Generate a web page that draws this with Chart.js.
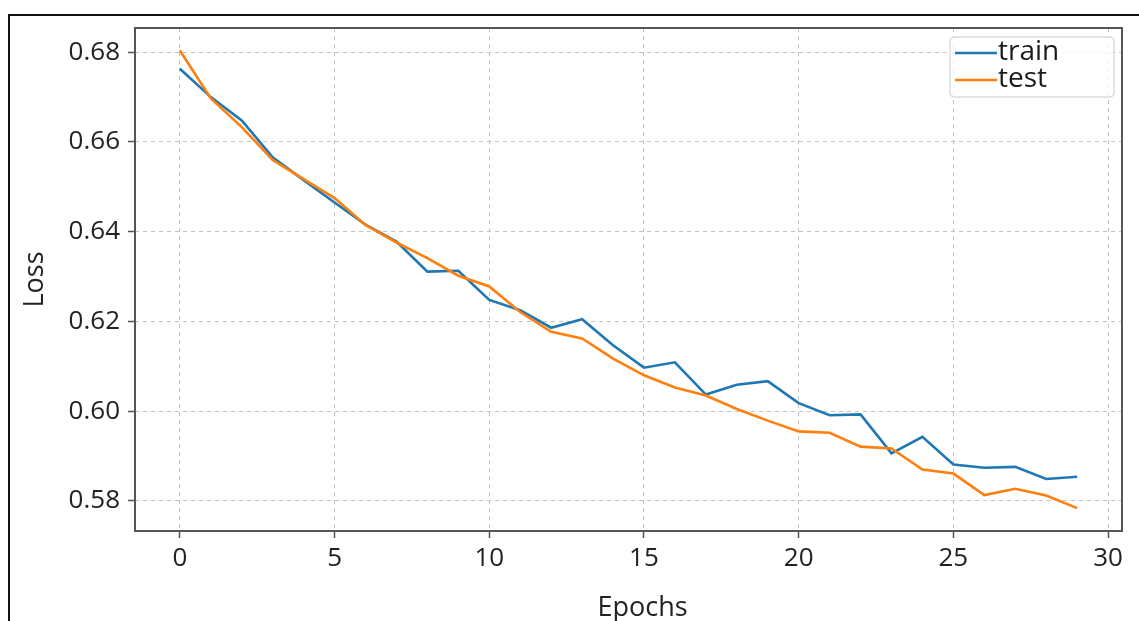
<!DOCTYPE html>
<html>
<head>
<meta charset="utf-8">
<script src="https://cdn.jsdelivr.net/npm/chart.js@4.4.1/dist/chart.umd.min.js"></script>
<style>
  html, body { margin: 0; padding: 0; background: #fff; overflow: hidden; }
  #frame { position: absolute; left: 8px; top: 14px; width: 2000px; height: 2000px;
           border-left: 2px solid #111; border-top: 2px solid #111; }
  #canvas { position: absolute; left: 0; top: 0; }
</style>
</head>
<body>
<div id="frame"></div>
<canvas id="canvas" width="1139" height="621"></canvas>
<script>
const epochs = [0,1,2,3,4,5,6,7,8,9,10,11,12,13,14,15,16,17,18,19,20,21,22,23,24,25,26,27,28,29];
const trainLoss = [0.6763,0.6700,0.6648,0.6566,0.6515,0.6465,0.6416,0.6378,0.6311,0.6313,
                   0.6248,0.6225,0.6186,0.6205,0.6147,0.6097,0.6109,0.6037,0.6059,0.6067,
                   0.6018,0.5991,0.5993,0.5906,0.5943,0.5881,0.5874,0.5876,0.5849,0.5854];
const testLoss = [0.6804,0.6697,0.6633,0.6560,0.6517,0.6475,0.6415,0.6376,0.6341,0.6302,
                  0.6278,0.6221,0.6177,0.6162,0.6117,0.6080,0.6053,0.6035,0.6005,0.5979,
                  0.5955,0.5952,0.5921,0.5917,0.5870,0.5861,0.5813,0.5827,0.5812,0.5784];
const xTicks = [0, 5, 10, 15, 20, 25, 30];
const yTicks = [0.58, 0.60, 0.62, 0.64, 0.66, 0.68];
const seriesLabels = ['train', 'test'];
const seriesColors = ['#1f77b4', '#ff7f0e'];

Chart.defaults.font.family = "'Open Sans', 'DejaVu Sans', sans-serif";
Chart.defaults.font.size = 26;
Chart.defaults.color = '#222';

// axes frame (all four spines) drawn over the lines like matplotlib
const framePlugin = {
  id: 'frame',
  afterDatasetsDraw(chart) {
    const {ctx, chartArea: a} = chart;
    ctx.save();
    ctx.strokeStyle = '#555';
    ctx.lineWidth = 2;
    ctx.strokeRect(a.left, a.top, a.right - a.left, a.bottom - a.top);
    ctx.restore();
  }
};

// boxed legend in the upper right corner
const boxLegend = {
  id: 'boxLegend',
  afterDraw(chart) {
    const {ctx, chartArea: a} = chart;
    const w = 164, h = 60;
    const x0 = a.right - 8 - w, y0 = a.top + 9;
    ctx.save();
    ctx.beginPath();
    ctx.roundRect(x0, y0, w, h, 4);
    ctx.fillStyle = 'rgba(255,255,255,0.8)';
    ctx.fill();
    ctx.strokeStyle = '#ccc';
    ctx.lineWidth = 1;
    ctx.stroke();
    ctx.font = "28px 'Open Sans', 'DejaVu Sans', sans-serif";
    ctx.textBaseline = 'middle';
    ctx.fillStyle = '#1a1a1a';
    chart.data.datasets.forEach((ds, i) => {
      const y = y0 + 16 + i * 27;
      ctx.beginPath();
      ctx.strokeStyle = ds.borderColor;
      ctx.lineWidth = 2.5;
      ctx.moveTo(x0 + 5, y);
      ctx.lineTo(x0 + 47, y);
      ctx.stroke();
      ctx.fillText(ds.label, x0 + 48, y - 1);
    });
    ctx.restore();
  }
};

new Chart(document.getElementById('canvas'), {
  type: 'line',
  data: {
    labels: epochs,
    datasets: [
      { label: seriesLabels[0], data: trainLoss, borderColor: seriesColors[0], order: 1 },
      { label: seriesLabels[1], data: testLoss, borderColor: seriesColors[1], order: 0 }
    ]
  },
  options: {
    responsive: false,
    animation: false,
    layout: { padding: { left: 0, top: 28, right: 17, bottom: 0 } },
    elements: {
      line: { borderWidth: 2.6, tension: 0, fill: false },
      point: { radius: 0, hoverRadius: 0 }
    },
    plugins: { legend: { display: false }, tooltip: { enabled: false } },
    scales: {
      x: {
        type: 'linear',
        min: -1.45,
        max: 30.45,
        afterBuildTicks(scale) { scale.ticks = xTicks.map(v => ({ value: v })); },
        afterFit(scale) { scale.height = 90; },
        ticks: { padding: 5, color: '#222', maxRotation: 0 },
        grid: { color: '#c4c4c4', lineWidth: 1, tickLength: 7, tickColor: '#555',
                tickWidth: 1.5, tickBorderDash: [] },
        border: { display: false, dash: [4, 4] },
        title: { display: true, text: '    Epochs', color: '#222', font: { size: 27 },
                 padding: { top: 0, bottom: -4 } }
      },
      y: {
        min: 0.5733,
        max: 0.6854,
        afterBuildTicks(scale) { scale.ticks = yTicks.map(v => ({ value: v })); },
        afterFit(scale) { scale.width = 135; },
        ticks: { padding: 8, color: '#222', callback: v => v.toFixed(2) },
        grid: { color: '#c4c4c4', lineWidth: 1, tickLength: 7, tickColor: '#555',
                tickWidth: 1.5, tickBorderDash: [] },
        border: { display: false, dash: [4, 4] },
        title: { display: true, text: 'Loss', color: '#222', font: { size: 27 },
                 padding: { top: 19, bottom: 0 } }
      }
    }
  },
  plugins: [framePlugin, boxLegend]
});
</script>
</body>
</html>
